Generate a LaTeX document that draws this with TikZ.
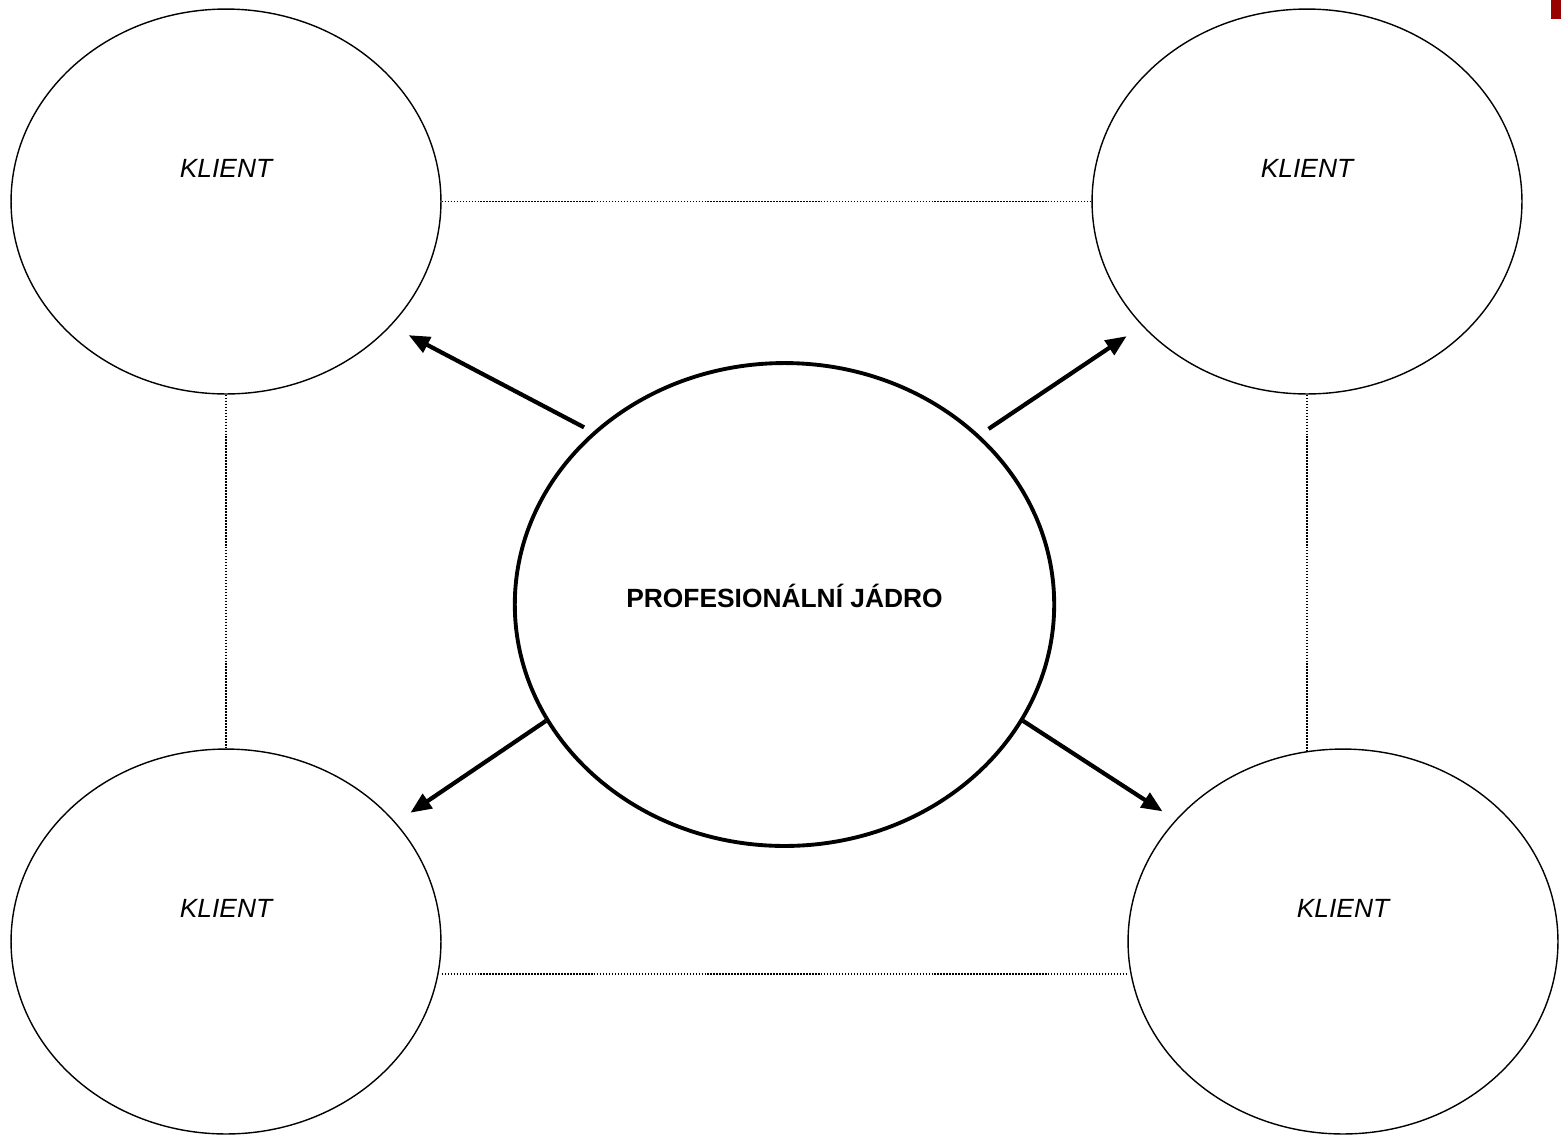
\documentclass[tikz,border=0pt]{standalone}
\usepackage{fontspec}
\setsansfont{Liberation Sans}
\usetikzlibrary{shapes.geometric,arrows.meta}
\definecolor{cornerred}{RGB}{153,0,0}
\begin{document}
\begin{tikzpicture}[x=0.02cm,y=-0.02cm,
    client/.style={ellipse,draw,line width=0.8pt,minimum width=8.6cm,minimum height=7.7cm,inner sep=0pt},
    core/.style={ellipse,draw,line width=2.2pt,minimum width=10.79cm,minimum height=9.66cm,inner sep=0pt},
    clienttext/.style={font=\sffamily\itshape\fontsize{15}{18}\selectfont,anchor=base,yshift=0.48cm},
    coretext/.style={font=\sffamily\bfseries\fontsize{15}{18}\selectfont,anchor=base,yshift=-0.06cm},
    push/.style={-{Triangle[length=0.42cm,width=0.34cm]},line width=2.4pt},
    link/.style={dash pattern=on 0.85pt off 0.85pt,line width=0.6pt}]
            \useasboundingbox (0,0) rectangle (1561,1137);
            \fill[cornerred] (1551,0) rectangle (1561,19);

            \node[client] (k1) at (226,201.5) {};
            \node[client] (k2) at (1307,201.5) {};
            \node[client] (k3) at (226,941.5) {};
            \node[client] (k4) at (1343,941.5) {};
            \node[core] (core) at (784.5,604.5) {};

            \node[clienttext] (t1) at (k1.center) {KLIENT};
            \node[clienttext] (t2) at (k2.center) {KLIENT};
            \node[clienttext] (t3) at (k3.center) {KLIENT};
            \node[clienttext] (t4) at (k4.center) {KLIENT};
            \node[coretext] (tc) at (core.center) {PROFESIONÁLNÍ JÁDRO};

            \draw[link] (k1.east) to (k2.west); \draw[link] (k1.south) to (k3.north);
            \draw[link] (k2.south) to (k2.south |- k4.100.7); \draw[link] ([yshift=-0.65cm]k3.east) to ([yshift=-0.65cm]k4.west);

            \draw[push,shorten <=0.2cm,shorten >=0.4cm] (core.138) to (k1.-37);
            \draw[push,shorten <=0.22cm,shorten >=0.37cm] (core.41.8) to (k2.-143.9);
            \draw[push,shorten >=0.35cm] (core.-154.1) to (k3.35.9);
            \draw[push,shorten >=0.31cm] (core.-26) to (k4.144.1);
        \end{tikzpicture}
\end{document}
